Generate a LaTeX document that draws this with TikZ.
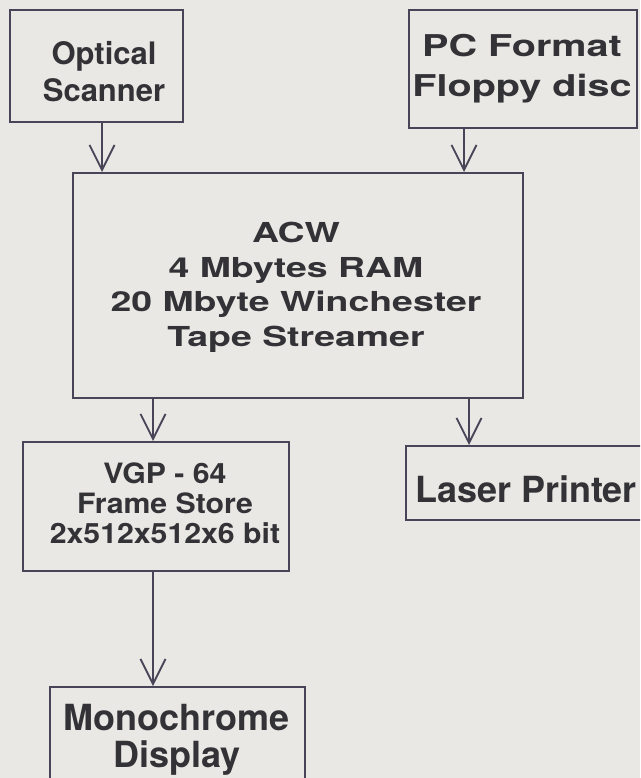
\documentclass[tikz,border=0pt]{standalone}
\usepackage{fontspec}
\setmainfont{TeX Gyre Heros}
\newfontfamily\hvwide[FakeStretch=1.32]{TeX Gyre Heros}
\newfontfamily\hvwider[FakeStretch=1.36]{TeX Gyre Heros}
\newfontfamily\hvmid[FakeStretch=1.08]{TeX Gyre Heros}
\usetikzlibrary{arrows.meta}
\definecolor{paper}{HTML}{E9E8E4}
\definecolor{ink}{HTML}{4A4458}
\definecolor{txt}{HTML}{333236}
\tikzset{
  boxc/.style={draw=ink, line width=2pt, fill=none, rectangle, inner sep=0pt},
  lbl/.style={text=txt, align=center, anchor=base, inner sep=0pt, font=\bfseries},
  arr/.style={draw=ink, line width=1.8pt, -{Straight Barb[length=25pt,width=25pt,line width=1.8pt]}}
}
\begin{document}
\begin{tikzpicture}[x=1pt,y=-1pt]
\fill[paper] (0,0) rectangle (640,778);
\useasboundingbox (0,0) rectangle (640,778);
\clip (0,0) rectangle (640,778);
% boxes
\node[boxc, minimum width=173pt, minimum height=112pt] (opt) at (96.5,66) {};
\node[boxc, minimum width=228pt, minimum height=118pt] (pc) at (523,69) {};
\node[boxc, minimum width=450pt, minimum height=225pt] (acw) at (298,285.5) {};
\node[boxc, minimum width=266pt, minimum height=129pt] (vgp) at (156,506.5) {};
\node[boxc, minimum width=260pt, minimum height=74pt] (laser) at (536,483) {};
\node[boxc, minimum width=255pt, minimum height=130pt] (mono) at (177.5,752) {};
% texts (anchor = baseline of the last line)
\node[lbl, font=\bfseries\fontsize{31}{37}\selectfont] (optt) at (104,102) {Optical\\Scanner};
\node[lbl, font=\bfseries\hvwide\fontsize{30}{40}\selectfont] (pct) at (522,97) {PC Format\\Floppy disc};
\node[lbl, font=\bfseries\hvwider\fontsize{27.5}{34.5}\selectfont] (acwt) at (296,346) {ACW\\4 Mbytes RAM\\20 Mbyte Winchester\\Tape Streamer};
\node[lbl, font=\bfseries\hvmid\fontsize{28}{30}\selectfont] (vgpt) at (165,543) {VGP - 64\\Frame Store\\2x512x512x6 bit};
\node[lbl, font=\bfseries\fontsize{36}{40}\selectfont] (lasert) at (526,502) {Laser Printer};
\node[lbl, font=\bfseries\fontsize{36}{37}\selectfont] (monot) at (177,767) {Monochrome\\Display};
% connector x positions
\coordinate (xa) at (102,0);
\coordinate (xb) at (464,0);
\coordinate (xc) at (153,0);
\coordinate (xd) at (469,0);
\draw[arr] (opt.south -| xa) -- (acw.north -| xa);
\draw[arr] (pc.south -| xb) -- (acw.north -| xb);
\draw[arr] (acw.south -| xc) -- (vgp.north -| xc);
\draw[arr] (acw.south -| xd) -- (laser.north -| xd);
\draw[arr] (vgp.south -| xc) -- (mono.north -| xc);
\end{tikzpicture}
\end{document}
